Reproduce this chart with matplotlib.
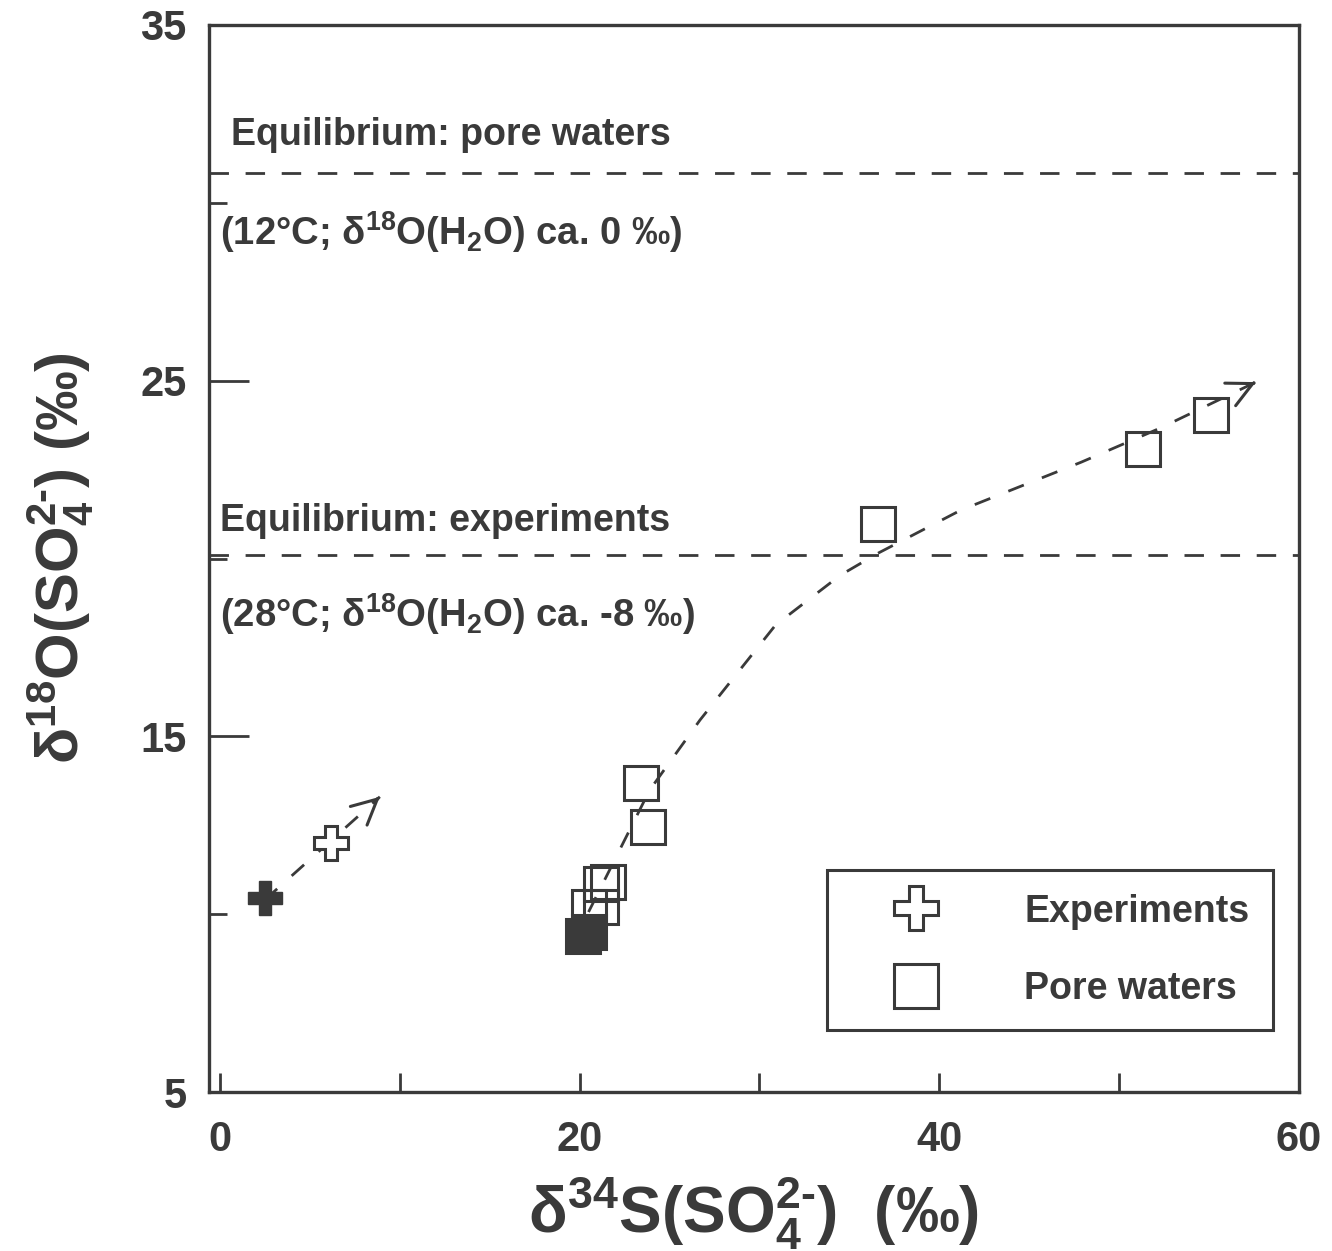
import numpy as np
import matplotlib
matplotlib.use('Agg')
import matplotlib.pyplot as plt

ink = '#3a3a3a'
plt.rcParams['font.family'] = ['Liberation Sans', 'DejaVu Sans']
plt.rcParams['font.weight'] = 'bold'
plt.rcParams['axes.labelweight'] = 'bold'
plt.rcParams['mathtext.fontset'] = 'custom'
plt.rcParams['mathtext.rm'] = 'Liberation Sans:bold'
plt.rcParams['mathtext.it'] = 'Liberation Sans:bold'
plt.rcParams['mathtext.bf'] = 'Liberation Sans:bold'

# experiments (closed = start, open = later)
exp_closed_x = [2.5]
exp_closed_y = [10.45]
exp_open_x = [6.2]
exp_open_y = [12.0]
exp_trend_x = [2.5, 8.9]
exp_trend_y = [10.4, 13.3]

# pore waters
pore_closed_x = [20.2, 20.5]
pore_closed_y = [9.4, 9.5]
pore_open_x = [20.5, 21.2, 21.2, 21.6, 23.8, 23.4, 36.6, 51.3, 55.1]
pore_open_y = [10.2, 10.2, 10.84, 10.9, 12.44, 13.68, 20.98, 23.09, 24.04]
pore_trend_x = [20.5, 23.9, 26.7, 30.9, 34.5, 36.6, 41.2, 47.9, 52.3, 57.6]
pore_trend_y = [10.06, 13.49, 15.46, 18.13, 19.53, 20.15, 21.36, 22.71, 23.67, 24.96]

eq_pore = 30.85
eq_exp = 20.1

fig = plt.figure(figsize=(13.32, 12.51), dpi=100)
ax = fig.add_axes([209/1332, 1 - 1092/1251, (1299 - 209)/1332, (1092 - 25)/1251])
ax.set_xlim(-0.6, 60)
ax.set_ylim(5, 35)

# equilibrium lines
ax.axhline(eq_pore, color=ink, lw=2, dashes=(7, 6))
ax.axhline(eq_exp, color=ink, lw=2, dashes=(7, 6))


def arrow_head(xs, ys):
    # open arrow head at the end of a trend, direction of the last segment
    dx = xs[-1] - xs[-2]
    dy = ys[-1] - ys[-2]
    ax.annotate('', xy=(xs[-1], ys[-1]), xytext=(xs[-1] - 0.02 * dx, ys[-1] - 0.02 * dy),
                arrowprops=dict(arrowstyle='->', color=ink, lw=2.2, mutation_scale=45,
                                shrinkA=0, shrinkB=0))


# trends
ax.plot(exp_trend_x, exp_trend_y, color=ink, lw=2, dashes=(6, 7))
arrow_head(exp_trend_x, exp_trend_y)
ax.plot(pore_trend_x, pore_trend_y, color=ink, lw=2, dashes=(6, 7))
arrow_head(pore_trend_x, pore_trend_y)

# markers
ax.plot(pore_closed_x, pore_closed_y, 's', ms=25, color=ink, mec=ink, mew=2.2, zorder=4)
ax.plot(pore_open_x, pore_open_y, 's', ms=25, mfc='none', mec=ink, mew=2.2, zorder=4)
ax.plot(exp_closed_x, exp_closed_y, 'P', ms=24, color=ink, mec=ink, mew=1, zorder=4)
ax.plot(exp_open_x, exp_open_y, 'P', ms=24, mfc='white', mec=ink, mew=2.2, zorder=4)

# legend handles
h1, = ax.plot([], [], 'P', ms=32, mfc='white', mec=ink, mew=2.2, ls='none')
h2, = ax.plot([], [], 's', ms=32, mfc='white', mec=ink, mew=2.2, ls='none')
leg = ax.legend([h1, h2], ['Experiments', 'Pore waters'], loc='lower right',
                bbox_to_anchor=(0.976, 0.058), fontsize=27, frameon=True, fancybox=False,
                edgecolor=ink, framealpha=1, handletextpad=1.15, labelspacing=1.1,
                borderpad=0.62, handlelength=3.5, borderaxespad=0)
leg.get_frame().set_linewidth(2.2)
for t in leg.get_texts():
    t.set_color(ink)

# annotations
ax.text(0.6, 31.9, 'Equilibrium: pore waters', fontsize=27, color=ink, va='center')
ax.text(0.0, 29.18, r'(12°C; $\mathregular{\delta^{18}}$O(H$\mathregular{_2}$O) ca. 0 ‰)', fontsize=27.5, color=ink, va='center')
ax.text(0.0, 21.05, 'Equilibrium: experiments', fontsize=27, color=ink, va='center')
ax.text(0.0, 18.45, r'(28°C; $\mathregular{\delta^{18}}$O(H$\mathregular{_2}$O) ca. -8 ‰)', fontsize=27.5, color=ink, va='center')

# axes styling
for s in ax.spines.values():
    s.set_linewidth(2.4)
    s.set_color(ink)
ax.set_xticks([0, 20, 40, 60])
ax.set_xticks([10, 30, 50], minor=True)
ax.set_yticks([5, 15, 25, 35])
ax.set_yticks([10, 20, 30], minor=True)
ax.tick_params(axis='both', which='both', direction='in', color=ink, width=2, labelsize=30, labelcolor=ink)
ax.tick_params(axis='x', which='both', length=14, pad=20)
ax.tick_params(axis='y', which='major', length=29, pad=16)
ax.tick_params(axis='y', which='minor', length=13)

ax.set_xlabel(r'$\mathregular{\delta^{34}S(SO_4^{2\text{-}})}$  (‰)', fontsize=46, color=ink, labelpad=10)
ax.set_ylabel(r'$\mathregular{\delta^{18}O(SO_4^{2\text{-}})}$ (‰)', fontsize=43, color=ink, labelpad=32)

fig.savefig('out.png', dpi=100)
